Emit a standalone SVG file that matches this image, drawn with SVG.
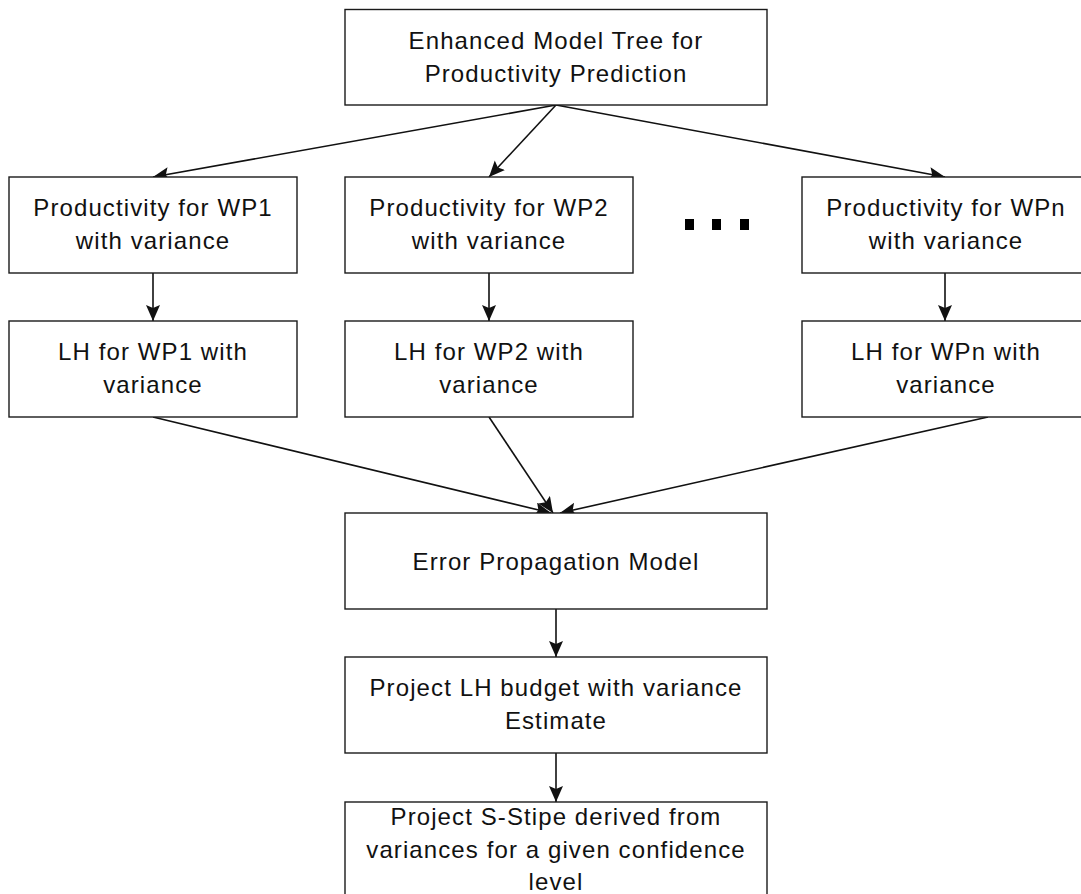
<svg xmlns="http://www.w3.org/2000/svg" width="1081" height="894" viewBox="0 0 1081 894">
  <style>
    .box { fill: #ffffff; stroke: #1a1a1a; stroke-width: 1.4; }
    .lbl { font-family: "Liberation Sans", Arial, sans-serif; font-size: 24px; fill: #111111; text-anchor: middle; letter-spacing: 1.1px; }
    .edge { stroke: #111111; stroke-width: 1.6; fill: none; marker-end: url(#head); }
  </style>
  <defs>
    <marker id="head" markerUnits="userSpaceOnUse" markerWidth="18" markerHeight="16" refX="16" refY="7" orient="auto">
      <path d="M0,0 L16,7 L0,14 L3,7 Z" fill="#111111"/>
    </marker>
  </defs>
  <rect width="1081" height="894" fill="#ffffff"/>

  <g id="connectors">
    <line class="edge" x1="556" y1="105" x2="153" y2="177"/>
    <line class="edge" x1="556" y1="105" x2="489" y2="177"/>
    <line class="edge" x1="556" y1="105" x2="945" y2="177"/>
    <line class="edge" x1="153" y1="273" x2="153" y2="321"/>
    <line class="edge" x1="489" y1="273" x2="489" y2="321"/>
    <line class="edge" x1="945" y1="273" x2="945" y2="321"/>
    <line class="edge" x1="153" y1="417" x2="551" y2="513"/>
    <line class="edge" x1="489" y1="417" x2="553" y2="513"/>
    <line class="edge" x1="988" y1="417" x2="560" y2="513"/>
    <line class="edge" x1="556" y1="609" x2="556" y2="657"/>
    <line class="edge" x1="556" y1="753" x2="556" y2="802"/>
  </g>

  <g id="model-tree">
    <rect class="box" x="345" y="9.5" width="422" height="95.5"/>
    <text class="lbl" x="556" y="49">Enhanced Model Tree for</text>
    <text class="lbl" x="556" y="81.5">Productivity Prediction</text>
  </g>

  <g id="prod-wp1">
    <rect class="box" x="9" y="177" width="288" height="96"/>
    <text class="lbl" x="153" y="216">Productivity for WP1</text>
    <text class="lbl" x="153" y="248.5">with variance</text>
  </g>
  <g id="prod-wp2">
    <rect class="box" x="345" y="177" width="288" height="96"/>
    <text class="lbl" x="489" y="216">Productivity for WP2</text>
    <text class="lbl" x="489" y="248.5">with variance</text>
  </g>
  <g id="ellipsis">
    <rect x="685" y="219" width="9" height="11" fill="#000000"/>
    <rect x="712" y="219" width="9" height="11" fill="#000000"/>
    <rect x="740" y="219" width="9" height="11" fill="#000000"/>
  </g>
  <g id="prod-wpn">
    <rect class="box" x="802" y="177" width="288" height="96"/>
    <text class="lbl" x="946" y="216">Productivity for WPn</text>
    <text class="lbl" x="946" y="248.5">with variance</text>
  </g>

  <g id="lh-wp1">
    <rect class="box" x="9" y="321" width="288" height="96"/>
    <text class="lbl" x="153" y="360">LH for WP1 with</text>
    <text class="lbl" x="153" y="392.5">variance</text>
  </g>
  <g id="lh-wp2">
    <rect class="box" x="345" y="321" width="288" height="96"/>
    <text class="lbl" x="489" y="360">LH for WP2 with</text>
    <text class="lbl" x="489" y="392.5">variance</text>
  </g>
  <g id="lh-wpn">
    <rect class="box" x="802" y="321" width="288" height="96"/>
    <text class="lbl" x="946" y="360">LH for WPn with</text>
    <text class="lbl" x="946" y="392.5">variance</text>
  </g>

  <g id="error-propagation">
    <rect class="box" x="345" y="513" width="422" height="96"/>
    <text class="lbl" x="556" y="569.5">Error Propagation Model</text>
  </g>

  <g id="lh-budget">
    <rect class="box" x="345" y="657" width="422" height="96"/>
    <text class="lbl" x="556" y="696">Project LH budget with variance</text>
    <text class="lbl" x="556" y="728.5">Estimate</text>
  </g>

  <g id="s-stripe">
    <rect class="box" x="345" y="802" width="422" height="110"/>
    <text class="lbl" x="556" y="825">Project S-Stipe derived from</text>
    <text class="lbl" x="556" y="857.5">variances for a given confidence</text>
    <text class="lbl" x="556" y="890">level</text>
  </g>
</svg>
